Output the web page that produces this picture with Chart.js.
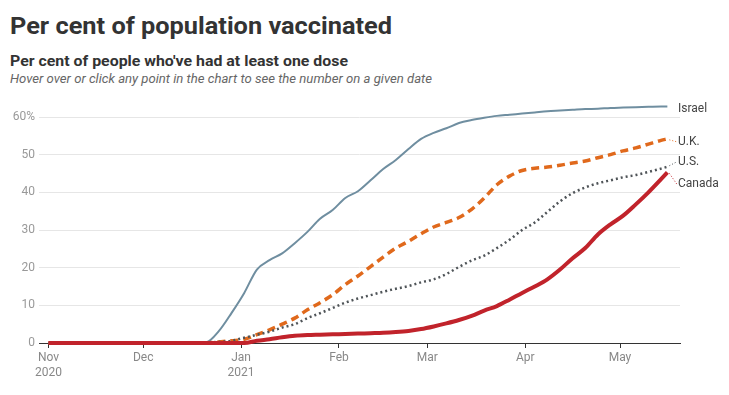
<!DOCTYPE html>
<html>
<head>
<meta charset="utf-8">
<script src="https://cdn.jsdelivr.net/npm/chart.js@4"></script>
<style>
  body { margin: 0; background: #fff; width: 729px; height: 395px; overflow: hidden; font-family: Roboto, "Open Sans", sans-serif; }
  .txt { position: absolute; left: 10px; white-space: nowrap; line-height: 1; transform-origin: 0 0; }
  #title { top: 14px; font-size: 24px; font-weight: 700; color: #333; }
  #sub { top: 54px; font-size: 15px; font-weight: 700; color: #333; }
  #note { top: 73px; font-size: 12px; font-style: italic; color: #666; }
  #wrap { position: absolute; left: 0; top: 95px; width: 729px; height: 300px; }
</style>
</head>
<body>
<div class="txt" id="title" data-w="382">Per cent of population vaccinated</div>
<div class="txt" id="sub" data-w="338">Per cent of people who've had at least one dose</div>
<div class="txt" id="note" data-w="422">Hover over or click any point in the chart to see the number on a given date</div>
<div id="wrap"><canvas id="chart"></canvas></div>
<script>
// days since 1 Nov 2020
const days = [0, 15, 30, 45, 50, 54, 58, 62, 66, 70, 74, 78, 82, 86, 90, 94, 98, 102, 106, 110, 114, 118,
  122, 126, 130, 134, 138, 142, 146, 150, 154, 158, 162, 166, 170, 174, 178, 182, 186, 190, 194, 196];

const israel = [0, 0, 0, 0, 0.2, 3.2, 8, 13.3, 19.5, 22, 23.8, 26.5, 29.5, 33, 35.3, 38.5, 40.3, 43.2, 46.2, 48.6, 51.5, 54.2,
  55.8, 57, 58.4, 59.2, 59.8, 60.3, 60.6, 60.9, 61.2, 61.5, 61.7, 61.9, 62.1, 62.2, 62.4, 62.5, 62.6, 62.7, 62.8, 62.8];
const uk = [0, 0, 0, 0, 0, 0.3, 0.6, 1, 2.2, 3.5, 5, 6.6, 8.8, 10.7, 12.8, 15.5, 17.8, 20.3, 22.8, 25.2, 27, 29,
  30.8, 32, 33.3, 35.5, 38.5, 42, 44.3, 45.8, 46.4, 46.7, 47.2, 47.8, 48.3, 49.2, 50, 51, 51.8, 52.8, 53.8, 54.2];
const us = [0, 0, 0, 0, 0.1, 0.3, 0.6, 1.4, 2.2, 3, 4.1, 5, 6.6, 7.9, 9.3, 10.7, 11.8, 12.7, 13.6, 14.4, 15.1, 16.1,
  16.9, 18.3, 20.2, 21.9, 23.2, 25.2, 27.4, 30, 32, 34.8, 37.6, 39.8, 41.3, 42.4, 43.2, 44, 44.6, 45.4, 46.3, 46.8];
const canada = [0, 0, 0, 0, 0, 0, 0, 0, 0.6, 1, 1.5, 1.9, 2.1, 2.2, 2.3, 2.4, 2.5, 2.6, 2.7, 2.9, 3.2, 3.7,
  4.4, 5.2, 6.1, 7.2, 8.6, 9.8, 11.5, 13.3, 15, 16.9, 19.5, 22.5, 25.2, 28.8, 31.5, 33.8, 36.8, 40, 43.5, 45.3];

const monthDays   = [0, 30, 61, 92, 120, 151, 181];
const monthLabels = [['Nov', '2020'], 'Dec', ['Jan', '2021'], 'Feb', 'Mar', 'Apr', 'May'];
const yTicks = [0, 10, 20, 30, 40, 50, 60];

const seriesNames = ['Israel', 'U.K.', 'U.S.', 'Canada'];
const labelShift  = [3, 3, -5, 12];

// squeeze the heading texts to the reference widths
document.querySelectorAll('.txt').forEach(el => {
  const w = el.getBoundingClientRect().width;
  el.style.transform = `scaleX(${el.dataset.w / w})`;
});

const pts = vals => vals.map((v, i) => ({ x: days[i], y: v }));

const endLabels = {
  id: 'endLabels',
  afterDatasetsDraw(chart) {
    const ctx = chart.ctx;
    const x0 = chart.chartArea.right - 2;
    ctx.save();
    ctx.font = '12px Roboto, sans-serif';
    ctx.textBaseline = 'middle';
    ctx.fillStyle = '#444';
    chart.data.datasets.forEach((ds, i) => {
      const meta = chart.getDatasetMeta(i);
      const p = meta.data[meta.data.length - 1];
      const ly = p.y + labelShift[i];
      if (i > 0) {
        ctx.strokeStyle = ds.borderColor;
        ctx.lineWidth = 1;
        ctx.setLineDash([1, 2]);
        ctx.beginPath();
        ctx.moveTo(p.x + 2, p.y + (labelShift[i] > 0 ? 1 : -1));
        ctx.lineTo(x0 - 1, ly);
        ctx.stroke();
      }
      ctx.fillText(seriesNames[i], x0, ly);
    });
    ctx.restore();
  }
};

new Chart(document.getElementById('chart'), {
  type: 'line',
  data: {
    datasets: [
      { label: 'Israel', data: pts(israel), borderColor: '#6f8ea0', borderWidth: 2, order: 4 },
      { label: 'U.K.', data: pts(uk), borderColor: '#e0691c', borderWidth: 3.5, borderDash: [8, 5], order: 3 },
      { label: 'U.S.', data: pts(us), borderColor: '#4f5458', borderWidth: 2.5, borderDash: [2, 3], order: 2 },
      { label: 'Canada', data: pts(canada), borderColor: '#c1232b', borderWidth: 4, order: 1 }
    ]
  },
  options: {
    responsive: true,
    maintainAspectRatio: false,
    animation: false,
    parsing: false,
    clip: false,
    layout: { padding: { left: 0, right: 49, top: 22, bottom: 0 } },
    elements: {
      point: { radius: 0 },
      line: { cubicInterpolationMode: 'monotone', fill: false }
    },
    plugins: { legend: { display: false }, tooltip: { enabled: false } },
    scales: {
      x: {
        type: 'linear',
        min: -3,
        max: 200,
        afterBuildTicks: axis => { axis.ticks = monthDays.map(v => ({ value: v })); },
        afterFit: axis => { axis.height = 52; },
        grid: { drawOnChartArea: false, drawTicks: true, tickLength: 5, color: '#333' },
        border: { display: true, color: '#333', width: 1 },
        ticks: {
          autoSkip: false,
          maxRotation: 0,
          padding: 3,
          color: '#888',
          font: { family: 'Roboto', size: 12 },
          callback: (v, i) => monthLabels[i]
        }
      },
      y: {
        min: 0,
        max: 60,
        afterBuildTicks: axis => { axis.ticks = yTicks.map(v => ({ value: v })); },
        afterFit: axis => { axis.width = 39; },
        grid: { color: '#e6e6e6', drawTicks: false },
        border: { display: false },
        ticks: {
          padding: 4,
          color: '#999',
          font: { family: 'Roboto', size: 12 },
          callback: v => (v === 60 ? '60%' : v)
        }
      }
    }
  },
  plugins: [endLabels]
});
</script>
</body>
</html>
